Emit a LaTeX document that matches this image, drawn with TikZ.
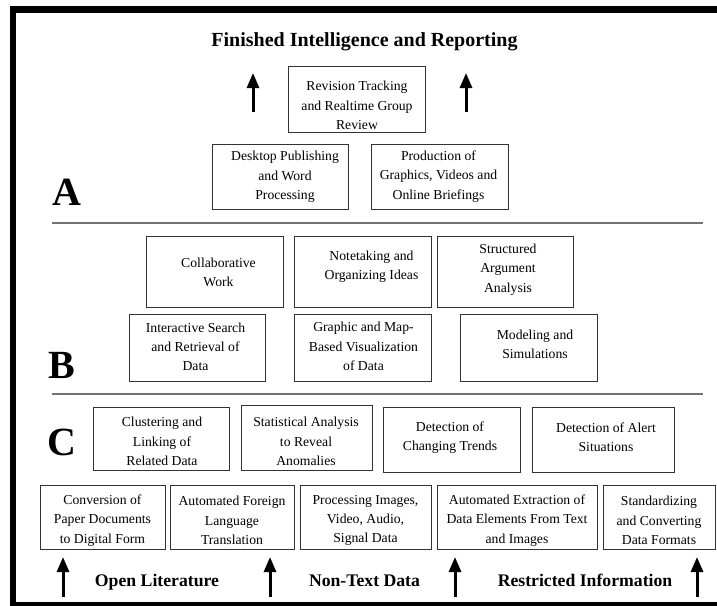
\documentclass[tikz,border=0pt]{standalone}
\usepackage{fontspec}
\setmainfont{Liberation Serif}
\usetikzlibrary{arrows.meta}
\begin{document}
\begin{tikzpicture}[x=1pt,y=-1pt,
  bx/.style={draw=black!80, line width=0.9pt, inner sep=0pt},
  tx/.style={align=center, inner sep=0pt, font=\fontsize{13.7}{19.3}\selectfont},
  sep/.style={draw=black!55, line width=2pt},
  arr/.style={line width=3pt, -{Triangle[width=12pt,length=15pt]}},
  big/.style={font=\fontsize{40}{40}\selectfont\bfseries, inner sep=0pt, anchor=base west},
  lab/.style={font=\fontsize{17.7}{20}\selectfont\bfseries, inner sep=0pt, anchor=base}]
\useasboundingbox (0,0) rectangle (717,605);
\begin{scope}
\clip (0,0) rectangle (717,605);
\draw[line width=6.5pt] (13,9.5) rectangle (730,605);
\end{scope}
% title
\node[font=\fontsize{20}{22}\selectfont\bfseries, inner sep=0pt, anchor=base] (title) at (364.5,46.5) {Finished Intelligence and Reporting};
% tier A
\node[bx, minimum width=137pt, minimum height=66pt] (rev) at (356.5,99) {};
\node[tx] (revt) at ([shift={(0.5,6.5)}]rev.center) {Revision Tracking\\and Realtime Group\\Review};
\node[bx, minimum width=136pt, minimum height=65pt] (desk) at (280,176.5) {};
\node[tx] (deskt) at ([shift={(5,0.5)}]desk.center) {Desktop Publishing\\and Word\\Processing};
\node[bx, minimum width=137pt, minimum height=65pt] (prod) at (439.5,176.5) {};
\node[tx] (prodt) at ([shift={(-1,0)}]prod.center) {Production of\\Graphics, Videos and\\Online Briefings};
\node[big] (A) at (52.5,205.5) {A};
\coordinate (l1a) at (52,222.5); \coordinate (l1b) at (703,222.5);
\draw[sep] (l1a) -- (l1b);
% tier B
\node[bx, minimum width=137pt, minimum height=71pt] (collab) at (214.5,271.5) {};
\node[tx] (collabt) at ([shift={(4,1)}]collab.center) {Collaborative\\Work};
\node[bx, minimum width=137pt, minimum height=71pt] (note) at (362.5,271.5) {};
\node[tx] (notet) at ([shift={(9,-4.5)}]note.center) {Notetaking and\\Organizing Ideas};
\node[bx, minimum width=136pt, minimum height=71pt] (struct) at (505,271.5) {};
\node[tx] (structt) at ([shift={(3,-2)}]struct.center) {Structured\\Argument\\Analysis};
\node[bx, minimum width=136pt, minimum height=67pt] (inter) at (197,347.5) {};
\node[tx] (intert) at ([shift={(-1.5,-0.5)}]inter.center) {Interactive Search\\and Retrieval of\\Data};
\node[bx, minimum width=137pt, minimum height=67pt] (graph) at (362.5,347.5) {};
\node[tx] (grapht) at ([shift={(1,-1)}]graph.center) {Graphic and Map-\\Based Visualization\\of Data};
\node[bx, minimum width=137pt, minimum height=67pt] (model) at (528.5,347.5) {};
\node[tx] (modelt) at ([shift={(6.5,-3)}]model.center) {Modeling and\\Simulations};
\node[big] (B) at (48,378) {B};
\coordinate (l2a) at (52,393.5); \coordinate (l2b) at (703,393.5);
\draw[sep] (l2a) -- (l2b);
% tier C
\node[bx, minimum width=136pt, minimum height=63pt] (clus) at (161,438.5) {};
\node[tx] (clust) at ([shift={(1,3)}]clus.center) {Clustering and\\Linking of\\Related Data};
\node[bx, minimum width=131pt, minimum height=65pt] (stat) at (306.5,437.5) {};
\node[tx] (statt) at ([shift={(-0.5,4)}]stat.center) {Statistical Analysis\\to Reveal\\Anomalies};
\node[bx, minimum width=137pt, minimum height=65pt] (chg) at (451.5,439.5) {};
\node[tx] (chgt) at ([shift={(-1.5,-2)}]chg.center) {Detection of\\Changing Trends};
\node[bx, minimum width=142pt, minimum height=65pt] (alert) at (603,439.5) {};
\node[tx] (alertt) at ([shift={(3,-2)}]alert.center) {Detection of Alert\\Situations};
\node[big] (C) at (47,455) {C};
% bottom row
\node[bx, minimum width=125pt, minimum height=64pt] (conv) at (102.5,517) {};
\node[tx] (convt) at ([shift={(0,3.5)}]conv.center) {Conversion of\\Paper Documents\\to Digital Form};
\node[bx, minimum width=124pt, minimum height=64pt] (trans) at (232,517) {};
\node[tx] (transt) at ([shift={(0,3.5)}]trans.center) {Automated Foreign\\Language\\Translation};
\node[bx, minimum width=131pt, minimum height=64pt] (proc) at (365.5,517) {};
\node[tx] (proct) at ([shift={(0,3.5)}]proc.center) {Processing Images,\\Video, Audio,\\Signal Data};
\node[bx, minimum width=160pt, minimum height=64pt] (extr) at (517,517) {};
\node[tx] (extrt) at ([shift={(0,3.5)}]extr.center) {Automated Extraction of\\Data Elements From Text\\and Images};
\node[bx, minimum width=112pt, minimum height=64pt] (std) at (659,517) {};
\node[tx] (stdt) at ([shift={(0,3.5)}]std.center) {Standardizing\\and Converting\\Data Formats};
% arrows top
\coordinate (t1s) at (253,112); \coordinate (t1e) at (253,73);
\coordinate (t2s) at (466,112); \coordinate (t2e) at (466,73);
\draw[arr] (t1s) -- (t1e);
\draw[arr] (t2s) -- (t2e);
% arrows bottom
\coordinate (b1s) at (63,597); \coordinate (b1e) at (63,557);
\coordinate (b2s) at (270,597); \coordinate (b2e) at (270,557);
\coordinate (b3s) at (455,597); \coordinate (b3e) at (455,557);
\coordinate (b4s) at (697,597); \coordinate (b4e) at (697,557);
\draw[arr] (b1s) -- (b1e);
\draw[arr] (b2s) -- (b2e);
\draw[arr] (b3s) -- (b3e);
\draw[arr] (b4s) -- (b4e);
% labels
\node[lab] (open) at (157,586) {Open Literature};
\node[lab] (nontext) at (364.5,586) {Non-Text Data};
\node[lab] (restr) at (585,586) {Restricted Information};
\end{tikzpicture}
\end{document}
